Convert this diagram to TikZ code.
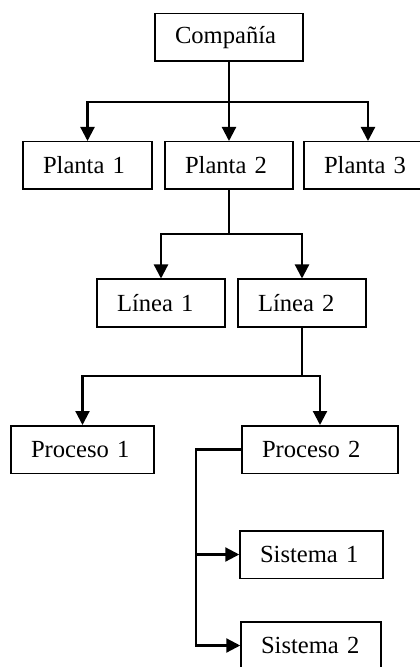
\documentclass[tikz,border=0pt]{standalone}
\usepackage{fontspec}
\setmainfont{Liberation Serif}
\usepackage{tikz}
\usetikzlibrary{arrows,arrows.meta}
\usepackage{xcolor}

\tikzset{caja/.style={draw, line width=0.75pt, text width=#1, align=left,
  inner xsep=10pt, inner ysep=0pt, minimum height=23.75pt,
  font=\fontsize{12.3}{14}\selectfont}}

\begin{document}
\begin{tikzpicture}[x=0.5pt,y=-0.5pt,>={Triangle[length=7pt,width=7pt]}]
\useasboundingbox (0,0) rectangle (419,667);
%%%BOXES
\node[caja=54pt] (comp) at (229,37.5) {Compañía};
\node[caja=44.5pt] (p1) at (87.5,165.5) {Planta 1};
\node[caja=44pt] (p2) at (229,165.5) {Planta 2};
\node[caja=44pt] (p3) at (368,165.5) {Planta 3};
\node[caja=44pt] (l1) at (161,303) {Línea 1};
\node[caja=44pt] (l2) at (302,303) {Línea 2};
\node[caja=51.5pt] (pr1) at (82.5,449.5) {Proceso 1};
\node[caja=58pt] (pr2) at (320,449.5) {Proceso 2};
\node[caja=51.5pt] (s1) at (311.5,554.5) {Sistema 1};
\node[caja=50pt] (s2) at (311,645.5) {Sistema 2};
%%%CONNECTORS
\coordinate (b1) at (229,102);
\coordinate (b2) at (229,234);
\coordinate (b3) at (302,376);
\coordinate (b4) at (196,449.5);
\draw[->, line width=1.1pt] (comp.south) -- (b1) -| (p1.north);
\draw[->, line width=1.1pt] (b1) -- (p2.north);
\draw[->, line width=1.1pt] (b1) -| (p3.north);
\draw[->, line width=1.1pt] (p2.south) -- (b2) -| (l1.north);
\draw[->, line width=1.1pt] (b2) -| (l2.north);
\draw[->, line width=1.1pt] (l2.south) -- (b3) -| (pr1.north);
\draw[->, line width=1.1pt] (b3) -| (pr2.north);
\draw[->, line width=1.1pt] (pr2.west) -- (b4) |- (s1.west);
\draw[->, line width=1.1pt] (b4) |- (s2.west);
\end{tikzpicture}
\end{document}
